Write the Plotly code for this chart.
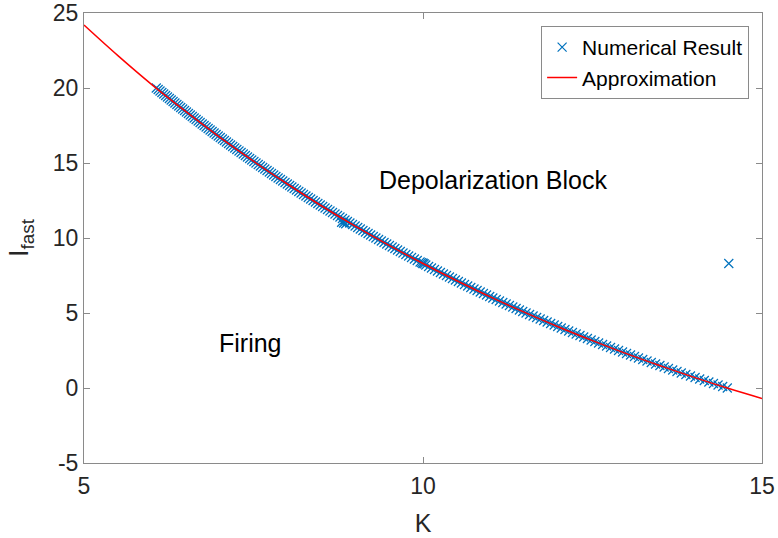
import plotly.graph_objects as go

# Numerical threshold curve: I_fast sampled every 0.1 from 20 down to 0, with the K where the block sets in
num_I = [
    20.0, 19.9, 19.8, 19.7, 19.6, 19.5, 19.4, 19.3, 19.2, 19.1,
    19.0, 18.9, 18.8, 18.7, 18.6, 18.5, 18.4, 18.3, 18.2, 18.1,
    18.0, 17.9, 17.8, 17.7, 17.6, 17.5, 17.4, 17.3, 17.2, 17.1,
    17.0, 16.9, 16.8, 16.7, 16.6, 16.5, 16.4, 16.3, 16.2, 16.1,
    16.0, 15.9, 15.8, 15.7, 15.6, 15.5, 15.4, 15.3, 15.2, 15.1,
    15.0, 14.9, 14.8, 14.7, 14.6, 14.5, 14.4, 14.3, 14.2, 14.1,
    14.0, 13.9, 13.8, 13.7, 13.6, 13.5, 13.4, 13.3, 13.2, 13.1,
    13.0, 12.9, 12.8, 12.7, 12.6, 12.5, 12.4, 12.3, 12.2, 12.1,
    12.0, 11.9, 11.8, 11.7, 11.6, 11.5, 11.4, 11.3, 11.2, 11.1,
    11.0, 10.9, 10.8, 10.7, 10.6, 10.5, 10.4, 10.3, 10.2, 10.1,
    10.0, 9.9, 9.8, 9.7, 9.6, 9.5, 9.4, 9.3, 9.2, 9.1,
    9.0, 8.9, 8.8, 8.7, 8.6, 8.5, 8.4, 8.3, 8.2, 8.1,
    8.0, 7.9, 7.8, 7.7, 7.6, 7.5, 7.4, 7.3, 7.2, 7.1,
    7.0, 6.9, 6.8, 6.7, 6.6, 6.5, 6.4, 6.3, 6.2, 6.1,
    6.0, 5.9, 5.8, 5.7, 5.6, 5.5, 5.4, 5.3, 5.2, 5.1,
    5.0, 4.9, 4.8, 4.7, 4.6, 4.5, 4.4, 4.3, 4.2, 4.1,
    4.0, 3.9, 3.8, 3.7, 3.6, 3.5, 3.4, 3.3, 3.2, 3.1,
    3.0, 2.9, 2.8, 2.7, 2.6, 2.5, 2.4, 2.3, 2.2, 2.1,
    2.0, 1.9, 1.8, 1.7, 1.6, 1.5, 1.4, 1.3, 1.2, 1.1,
    1.0, 0.9, 0.8, 0.7, 0.6, 0.5, 0.4, 0.3, 0.2, 0.1,
    0.0,
]
num_K = [
    6.066, 6.094, 6.121, 6.149, 6.176, 6.204, 6.231, 6.259, 6.286, 6.314,
    6.341, 6.370, 6.398, 6.426, 6.455, 6.483, 6.511, 6.540, 6.568, 6.597,
    6.625, 6.654, 6.684, 6.713, 6.743, 6.772, 6.801, 6.831, 6.860, 6.890,
    6.919, 6.949, 6.980, 7.010, 7.041, 7.071, 7.101, 7.132, 7.162, 7.193,
    7.223, 7.254, 7.286, 7.317, 7.349, 7.380, 7.411, 7.443, 7.474, 7.506,
    7.537, 7.570, 7.602, 7.635, 7.667, 7.700, 7.733, 7.765, 7.798, 7.830,
    7.863, 7.897, 7.931, 7.965, 7.999, 8.033, 8.066, 8.100, 8.134, 8.168,
    8.202, 8.237, 8.273, 8.308, 8.343, 8.379, 8.414, 8.449, 8.484, 8.520,
    8.555, 8.592, 8.628, 8.665, 8.702, 8.739, 8.775, 8.812, 8.849, 8.885,
    8.922, 8.960, 8.999, 9.037, 9.075, 9.114, 9.152, 9.190, 9.228, 9.267,
    9.305, 9.345, 9.385, 9.425, 9.465, 9.505, 9.545, 9.585, 9.625, 9.665,
    9.705, 9.747, 9.789, 9.831, 9.873, 9.915, 9.957, 9.999, 10.041, 10.083,
    10.125, 10.169, 10.213, 10.257, 10.301, 10.346, 10.390, 10.434, 10.478, 10.522,
    10.566, 10.612, 10.659, 10.705, 10.752, 10.798, 10.844, 10.891, 10.937, 10.984,
    11.030, 11.079, 11.128, 11.177, 11.226, 11.275, 11.324, 11.373, 11.422, 11.471,
    11.520, 11.572, 11.624, 11.676, 11.728, 11.780, 11.831, 11.883, 11.935, 11.987,
    12.039, 12.094, 12.149, 12.204, 12.259, 12.315, 12.370, 12.425, 12.480, 12.535,
    12.590, 12.649, 12.708, 12.766, 12.825, 12.884, 12.943, 13.002, 13.061, 13.119,
    13.178, 13.241, 13.304, 13.367, 13.430, 13.494, 13.557, 13.620, 13.683, 13.746,
    13.809, 13.877, 13.945, 14.013, 14.081, 14.149, 14.216, 14.284, 14.352, 14.420,
    14.488,
]

# Extra runs that landed on (or near) the curve, plus the stray point at K = 14.5
extra_K = [8.80, 8.83, 8.86, 9.98, 10.00, 10.02, 14.51]
extra_I = [11.05, 11.00, 10.95, 8.36, 8.32, 8.28, 8.3]

# Approximation curve
approx_K = [5.0, 5.5, 6.0, 6.5, 7.0, 7.5, 8.0, 8.5, 9.0, 9.5, 10.0,
            10.5, 11.0, 11.5, 12.0, 12.5, 13.0, 13.5, 14.0, 14.5, 15.0]
approx_I = [24.2, 22.16, 20.23, 18.44, 16.73, 15.12, 13.6, 12.15, 10.79, 9.51, 8.3,
            7.15, 6.06, 5.04, 4.07, 3.16, 2.29, 1.48, 0.71, -0.02, -0.70]

x_ticks = [5, 10, 15]
y_ticks = [-5, 0, 5, 10, 15, 20, 25]

BLUE = "#0072BD"
FONT = "Liberation Sans, Arial, Helvetica, sans-serif"
DARK = "#262626"
AXIS = "#8a8a8a"

fig = go.Figure()

fig.add_trace(go.Scatter(
    x=num_K + extra_K, y=num_I + extra_I,
    mode="markers", name="Numerical Result",
    marker=dict(symbol="x-thin", size=9, color=BLUE,
                line=dict(color=BLUE, width=1.2)),
))
fig.add_trace(go.Scatter(
    x=approx_K, y=approx_I,
    mode="lines", name="Approximation",
    line=dict(color="#FF0000", width=1.5, shape="spline"),
))

axis_common = dict(
    showline=True, linecolor=AXIS, linewidth=1,
    mirror="ticks", ticks="inside", ticklen=6, tickcolor=AXIS,
    showgrid=False, zeroline=False, automargin=False,
    tickfont=dict(family=FONT, size=23, color=DARK),
)

fig.update_xaxes(
    range=[5, 15], tickvals=x_ticks, ticktext=[str(v) for v in x_ticks],
    ticklabelstandoff=2,
    title=dict(text="K", font=dict(family=FONT, size=25, color=DARK), standoff=16),
    **axis_common,
)
fig.update_yaxes(
    range=[-5, 25], tickvals=y_ticks, ticktext=[str(v) for v in y_ticks],
    title=dict(text="I<sub>fast</sub>", font=dict(family=FONT, size=27, color=DARK), standoff=16),
    **axis_common,
)

fig.add_annotation(x=11.03, y=13.9, xref="x", yref="y", text="Depolarization Block",
                   showarrow=False, xanchor="center", yanchor="middle",
                   font=dict(family=FONT, size=25, color="black"))
fig.add_annotation(x=7.46, y=3.0, xref="x", yref="y", text="Firing",
                   showarrow=False, xanchor="center", yanchor="middle",
                   font=dict(family=FONT, size=25, color="black"))

fig.update_layout(
    width=778, height=538,
    margin=dict(l=84, r=16, t=13, b=75),
    paper_bgcolor="white", plot_bgcolor="white",
    showlegend=True,
    legend=dict(
        x=0.981, y=0.971, xanchor="right", yanchor="top",
        bgcolor="white", bordercolor=AXIS, borderwidth=1,
        font=dict(family=FONT, size=21, color="black"),
        itemwidth=30, tracegroupgap=0,
    ),
)

fig.write_html("out.html")
